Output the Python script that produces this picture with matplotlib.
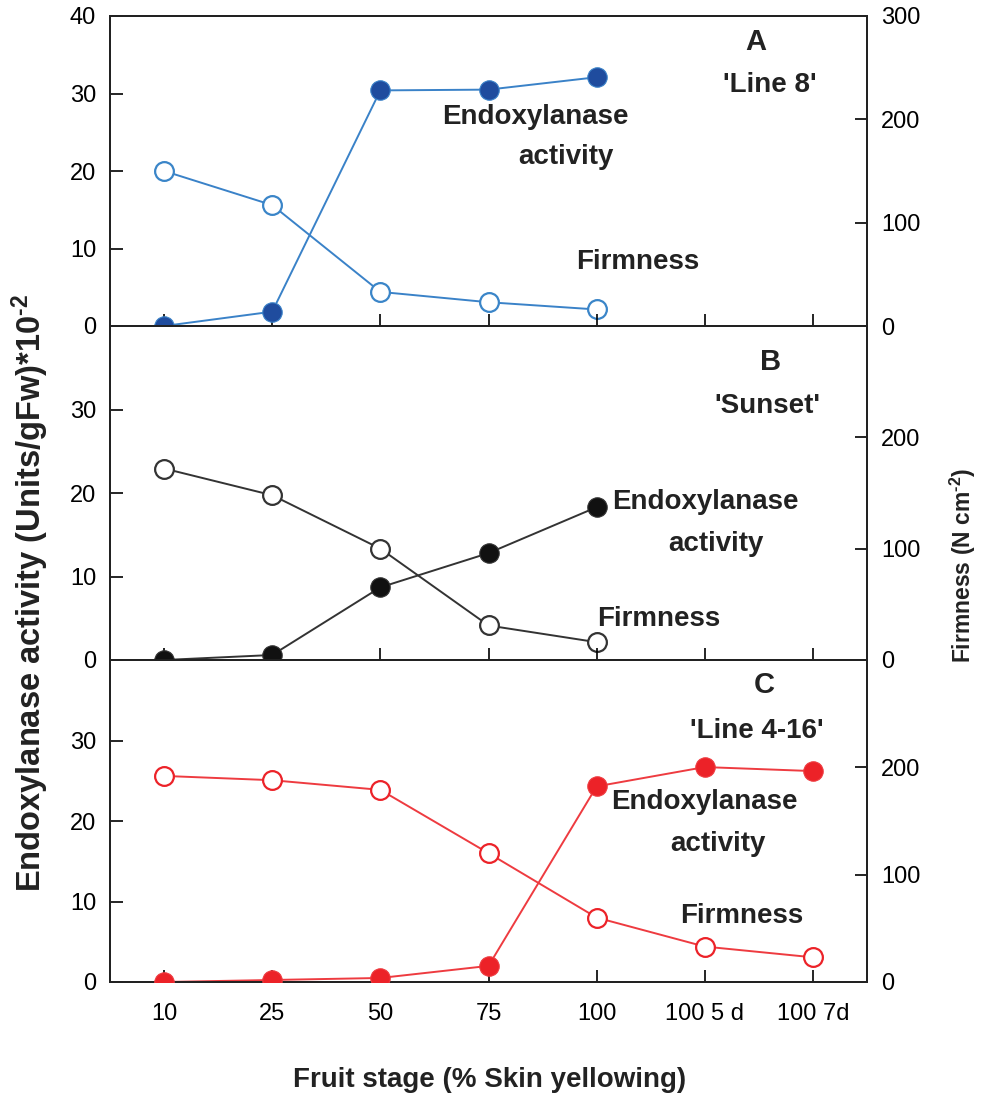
import numpy as np
import matplotlib
matplotlib.use('Agg')
import matplotlib.pyplot as plt

plt.rcParams['font.family'] = ['Liberation Sans', 'DejaVu Sans']
plt.rcParams['mathtext.fontset'] = 'custom'
plt.rcParams['mathtext.rm'] = 'Liberation Sans:bold'
plt.rcParams['mathtext.bf'] = 'Liberation Sans:bold'
plt.rcParams['mathtext.default'] = 'rm'

# fruit stage (% skin yellowing)
stages = ['10', '25', '50', '75', '100', '100 5 d', '100 7d']

# A - 'Line 8'
endo_line8 = [0, 1.85, 30.4, 30.5, 32.1]
firm_line8 = [150, 117, 33, 23, 16]
# B - 'Sunset'
endo_sunset = [0, 0.6, 8.7, 12.8, 18.3]
firm_sunset = [172, 148, 100, 31, 16]
# C - 'Line 4-16'
endo_l416 = [0, 0.25, 0.5, 2.0, 24.3, 26.7, 26.2]
firm_l416 = [192, 188, 179, 120, 60, 33, 23]

W, H = 984, 1095
fig = plt.figure(figsize=(W/100, H/100), dpi=100)

def fbox(top, bottom, left=110, right=867):
    return [left/W, 1 - bottom/H, (right-left)/W, (bottom-top)/H]

panels = [
    dict(box=fbox(16, 326), endo=endo_line8, firm=firm_line8,
         line='#3a82c8', fill='#1f4c9e', edge='#3a85c8',
         letter='A', name="'Line 8'", lpos=(5.47, 36.6), npos=(5.6, 31.1),
         e1=(3.43, 27.0, 'center'), e2=(3.72, 21.8), fpos=(4.38, 8.3),
         lticks=[0, 10, 20, 30, 40], rticks=[0, 100, 200, 300]),
    dict(box=fbox(326, 660), endo=endo_sunset, firm=firm_sunset,
         line='#333333', fill='#111111', edge='#333333',
         letter='B', name="'Sunset'", lpos=(5.61, 35.7), npos=(5.58, 30.4),
         e1=(4.14, 18.9, 'left'), e2=(5.1, 13.9), fpos=(4.57, 4.9),
         lticks=[0, 10, 20, 30], rticks=[0, 100, 200]),
    dict(box=fbox(660, 982), endo=endo_l416, firm=firm_l416,
         line='#ee3b40', fill='#ec2228', edge='#ec2228',
         letter='C', name="'Line 4-16'", lpos=(5.55, 36.9), npos=(5.48, 31.2),
         e1=(5.0, 22.3, 'center'), e2=(5.12, 17.2), fpos=(5.34, 8.2),
         lticks=[0, 10, 20, 30], rticks=[0, 100, 200]),
]

x = np.arange(len(stages))
tfont = 17
afont = 20

for k, p in enumerate(panels):
    ax = fig.add_axes(p['box'])
    ax2 = ax.twinx()
    ax.set_zorder(ax2.get_zorder() + 1)
    ax.patch.set_visible(False)

    n = len(p['endo'])
    ax2.plot(x[:n], p['firm'], '-o', color=p['line'], lw=1.4, ms=13.5,
             mfc='white', mec=p['edge'], mew=1.6, zorder=3)
    ax.plot(x[:n], p['endo'], '-', color=p['line'], lw=1.4, zorder=2)
    ax.plot(x[:n], p['endo'], 'o', color=p['fill'], ms=14, mec=p['line'],
            mew=0.8, zorder=3)

    ax.set_xlim(-0.5, 6.5)
    ax.set_ylim(0, 40)
    ax2.set_ylim(0, 300)
    ax.set_xticks(x)
    ax.set_yticks(p['lticks'])
    ax2.set_yticks(p['rticks'])
    if k == 2:
        ax.set_xticklabels(stages, fontsize=tfont)
    else:
        ax.set_xticklabels([])
    ax.tick_params(axis='x', direction='in', length=9, width=1.2, pad=15)
    ax.tick_params(axis='y', direction='in', length=9, width=1.2, pad=10,
                   labelsize=tfont)
    ax2.tick_params(axis='y', direction='in', length=9, width=1.2, pad=10,
                    labelsize=tfont)
    for a in (ax, ax2):
        for s in a.spines.values():
            s.set_linewidth(1.4)
            s.set_color('#222222')

    ax.text(*p['lpos'], p['letter'], fontsize=afont + 1, fontweight='bold',
            ha='center', va='center', color='#222222')
    ax.text(*p['npos'], p['name'], fontsize=afont, fontweight='bold',
            ha='center', va='center', color='#222222')
    ax.text(p['e1'][0], p['e1'][1], 'Endoxylanase', fontsize=afont,
            fontweight='bold', ha=p['e1'][2], va='center', color='#222222')
    ax.text(*p['e2'], 'activity', fontsize=afont, fontweight='bold',
            ha='center', va='center', color='#222222')
    ax.text(*p['fpos'], 'Firmness', fontsize=afont, fontweight='bold',
            ha='center', va='center', color='#222222')

fig.text(30/W, 1 - 593/H, 'Endoxylanase activity (Units/gFw)*10$^{\\text{-2}}$',
         rotation=90, fontsize=23.5, fontweight='bold', ha='center', va='center',
         color='#222222')
fig.text(963/W, 1 - 565/H, 'Firmness (N cm$^{\\text{-2}}$)', rotation=90,
         fontsize=16.5, fontweight='bold', ha='center', va='center',
         color='#222222')
fig.text(490/W, 1 - 1080/H, 'Fruit stage (% Skin yellowing)', fontsize=20,
         fontweight='bold', ha='center', va='center', color='#222222')

fig.savefig('out.png', dpi=100)
